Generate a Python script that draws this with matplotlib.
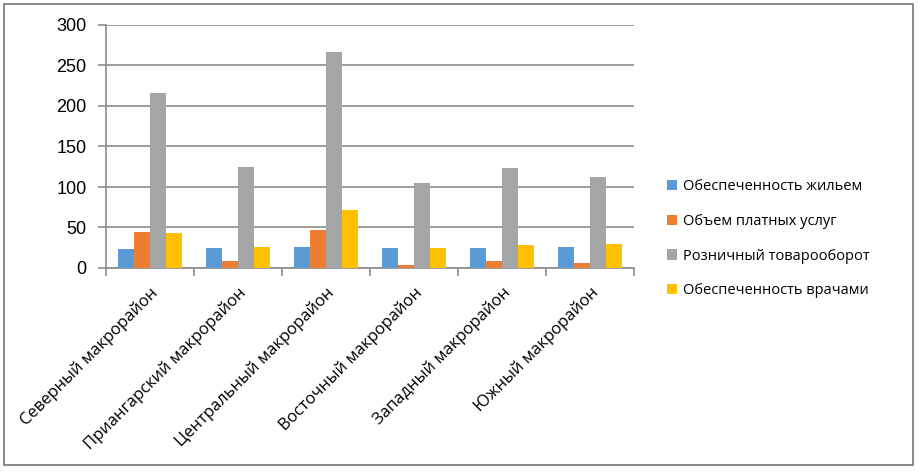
import matplotlib
matplotlib.use("Agg")
import matplotlib.pyplot as plt
import numpy as np
from matplotlib.patches import Rectangle

categories = ["Северный макрорайон", "Приангарский макрорайон", "Центральный макрорайон",
              "Восточный макрорайон", "Западный макрорайон", "Южный макрорайон"]
series_names = ["Обеспеченность жильем", "Объем платных услуг",
                "Розничный товарооборот", "Обеспеченность врачами"]
housing = [24, 25, 26, 25, 25, 26]
paid_services = [45, 9, 47, 4, 9, 6]
retail = [216, 125, 267, 105, 123, 112]
doctors = [43, 26, 71, 25, 28, 30]
yticks = [0, 50, 100, 150, 200, 250, 300]

colors = ["#5B9BD5", "#ED7D31", "#A5A5A5", "#FFC000"]
values = [housing, paid_services, retail, doctors]

plt.rcParams['font.family'] = ['Open Sans', 'DejaVu Sans']

fig = plt.figure(figsize=(9.18, 4.73), dpi=100)
ax = fig.add_axes([106/918, 1-268/473, (634-106)/918, (268-25)/473])

n = len(series_names)
w = 1/(n+1.5)
x = np.arange(len(categories))
handles = []
for i, (name, vals, c) in enumerate(zip(series_names, values, colors)):
    h = ax.bar(x + (i - (n-1)/2)*w, vals, width=w, color=c, label=name, zorder=3)
    handles.append(h)

ax.set_xlim(-0.5, len(categories)-0.5)
ax.set_ylim(0, 300)
ax.set_yticks(yticks)
ax.set_yticklabels([str(t) for t in yticks], fontsize=13, family=['Liberation Sans'])
ax.yaxis.grid(True, color="#8c8c8c", linewidth=1.2, zorder=0)
ax.tick_params(axis='y', length=6, color="#8c8c8c", width=1.2, pad=8)
for s in ['top', 'right']:
    ax.spines[s].set_visible(False)
for s in ['left', 'bottom']:
    ax.spines[s].set_color("#8c8c8c")
    ax.spines[s].set_linewidth(1.2)

ax.set_xticks(np.arange(-0.5, len(categories)), minor=True)
ax.set_xticks(x)
ax.set_xticklabels(categories, rotation=45, ha='right', rotation_mode='anchor', fontsize=12)
ax.tick_params(axis='x', which='major', length=0, pad=12)
ax.tick_params(axis='x', which='minor', length=6, color="#8c8c8c", width=1.2)

leg = fig.legend(handles=handles, labels=series_names, loc='upper left',
                 bbox_to_anchor=(657/918, 1-169/473), frameon=False, fontsize=10.5,
                 handlelength=0.7, handleheight=0.7, handletextpad=0.4, labelspacing=1.35,
                 borderpad=0.2)

fig.patches.append(Rectangle((4/918, 1-465/473), (913-4)/918, (465-4)/473,
                             transform=fig.transFigure, fill=False,
                             edgecolor="#808080", linewidth=1.3))

fig.savefig("out.png", dpi=100)
